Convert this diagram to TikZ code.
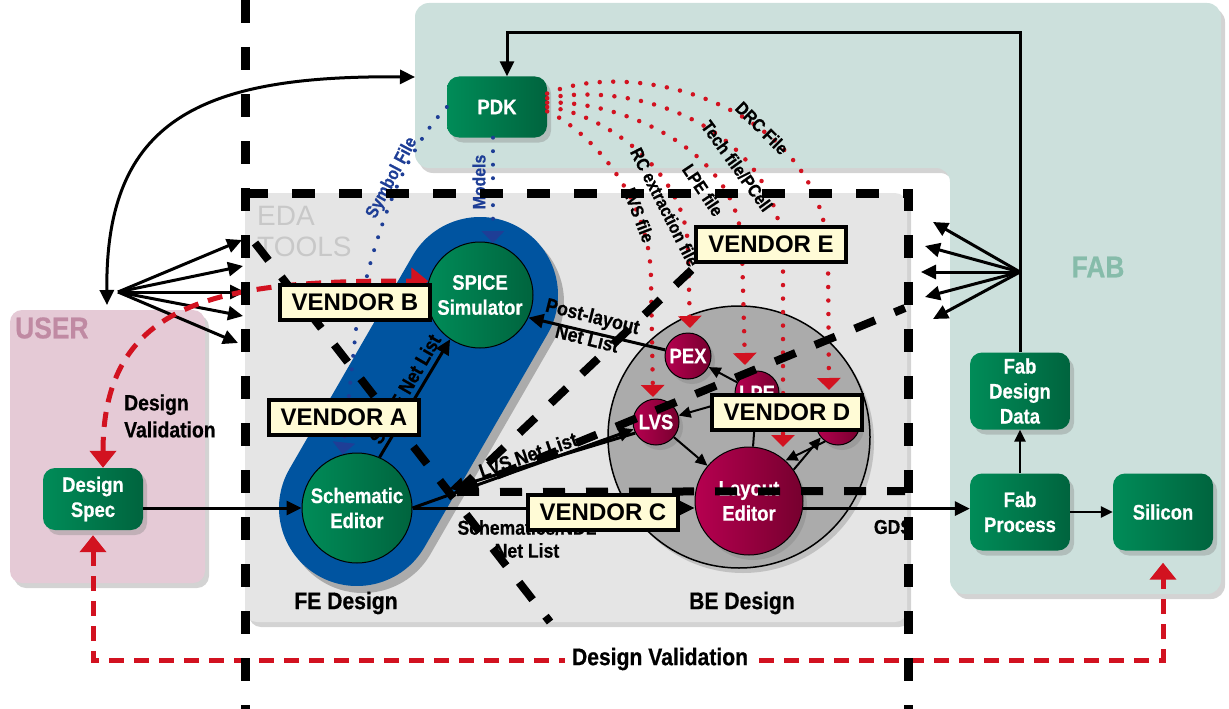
\documentclass[tikz,border=0pt]{standalone}
\usepackage{fontspec}
\setmainfont{Liberation Sans}
\newfontfamily\narrowfont{Liberation Sans}[FakeStretch=0.88, BoldFeatures={FakeBold=0.6}]
\usetikzlibrary{arrows.meta, shadows, positioning}
\definecolor{fabgreen}{RGB}{204,224,220}
\definecolor{fablabel}{RGB}{134,188,170}
\definecolor{userpink}{RGB}{229,202,214}
\definecolor{userlabel}{RGB}{192,138,163}
\definecolor{edagray}{RGB}{229,229,229}
\definecolor{edalabel}{RGB}{200,200,200}
\definecolor{begray}{RGB}{171,171,171}
\definecolor{nodegreen}{RGB}{0,140,88}
\definecolor{nodegreendark}{RGB}{0,100,62}
\definecolor{nodered}{RGB}{182,0,80}
\definecolor{noderedark}{RGB}{118,0,46}
\definecolor{capsuleblue}{RGB}{0,84,160}
\definecolor{valred}{RGB}{210,18,32}
\definecolor{dotblue}{RGB}{30,62,150}
\definecolor{vendorcream}{RGB}{255,251,214}
\tikzstyle{softshadow} = [drop shadow={shadow xshift=4pt, shadow yshift=-5pt, opacity=0.35}]
\tikzstyle{greenbox} = [rectangle, rounded corners=12pt, minimum width=100pt, minimum height=61pt, align=center, left color=nodegreen, right color=nodegreendark, text=white, font=\narrowfont\bfseries\fontsize{21}{25}\selectfont, softshadow]
\tikzstyle{greencircle} = [circle, draw=black, line width=1pt, inner sep=0pt, align=center, left color=nodegreen, right color=nodegreendark, text=white, font=\narrowfont\bfseries\fontsize{21}{25}\selectfont]
\tikzstyle{redcircle} = [circle, draw=black, line width=1pt, inner sep=0pt, align=center, left color=nodered, right color=noderedark, text=white, font=\narrowfont\bfseries\fontsize{21}{25}\selectfont, softshadow]
\tikzstyle{vendorbox} = [rectangle, draw=black, line width=4pt, fill=vendorcream, minimum width=150pt, minimum height=35pt, inner sep=3pt, font=\bfseries\fontsize{24}{28}\selectfont]
\tikzstyle{flowlabel} = [font=\narrowfont\bfseries\fontsize{20}{23}\selectfont, align=center, inner sep=1pt]
\tikzstyle{filelabel} = [font=\narrowfont\bfseries\fontsize{18}{20}\selectfont, inner sep=0pt]
\tikzstyle{arrow} = [line width=3pt, -{Triangle[length=15pt,width=14pt]}]
\tikzstyle{thinarrow} = [line width=2pt, -{Triangle[length=12pt,width=11pt]}]
\tikzstyle{vendorline} = [line width=8pt, dash pattern=on 22pt off 21pt]
\tikzstyle{borderline} = [line width=9pt, dash pattern=on 23pt off 24pt]
\tikzstyle{validation} = [valred, line width=5pt, dash pattern=on 15pt off 10pt, {Triangle[length=17pt,width=26pt]}-{Triangle[length=17pt,width=26pt]}]
\tikzstyle{reddots} = [valred, line width=4.5pt, line cap=round, dash pattern=on 0pt off 13.5pt, -{Triangle[length=12pt,width=23pt]}]
\tikzstyle{bluedots} = [dotblue, line width=4pt, line cap=round, dash pattern=on 0pt off 13.5pt, -{Triangle[length=12pt,width=22pt]}]
\begin{document}
\begin{tikzpicture}[x=1pt, y=-1pt]
\useasboundingbox (0,0) rectangle (1229,709);

% regions
\fill[fabgreen, rounded corners=14pt, softshadow] (415,3) -- (1221,3) -- (1221,594) -- (950,594) -- (950,168) -- (415,168) -- cycle;
\fill[userpink, rounded corners=12pt, softshadow] (10,310) rectangle (205,583);
\fill[edagray, rounded corners=12pt, softshadow] (245,193) rectangle (907,622);

\node[font=\narrowfont\bfseries\fontsize{30}{32}\selectfont, text=userlabel, anchor=west, inner sep=0pt] (userlbl) at (15,328) {USER};
\node[font=\fontsize{28}{31}\selectfont, text=edalabel, align=left, anchor=north west, inner sep=0pt] (edalbl) at (257,206) {EDA\\TOOLS};
\node[font=\narrowfont\bfseries\fontsize{30}{32}\selectfont, text=fablabel] (fablbl) at (1098,267) {FAB};
\node[font=\narrowfont\bfseries\fontsize{24}{26}\selectfont] (felbl) at (346,603) {FE Design};
\node[font=\narrowfont\bfseries\fontsize{24}{26}\selectfont] (belbl) at (742,603) {BE Design};

% front end capsule and back end disc
\draw[line width=156pt, line cap=round, black, opacity=0.25] (363,515) -- (486,302);
\draw[line width=156pt, line cap=round, capsuleblue] (357,508) -- (480,295);
\node[circle, draw=black, line width=1.5pt, fill=begray, minimum size=262pt, softshadow] (be) at (739,437) {};

% PDK deliveries
\node[greenbox] (pdk) at (497,107) {PDK};
\draw[reddots] (pdk.15) .. controls (640,55) and (828,110) .. (828,260) -- (829,390);
\draw[reddots] (pdk.10) .. controls (640,80) and (783,130) .. (783,260) -- (783,447);
\draw[reddots] (pdk.5) .. controls (620,100) and (742,150) .. (742,250) -- (745,365);
\draw[reddots] (pdk.0) .. controls (600,112) and (688,170) .. (688,250) -- (690,328);
\draw[reddots] (pdk.-5) .. controls (580,125) and (651,190) .. (651,280) -- (653,397);
\node[filelabel, rotate=-45] (drclbl) at (762,128) {DRC File};
\node[filelabel, rotate=-54] (techlbl) at (737,166) {Tech file/PCell};
\node[filelabel, rotate=-56] (lpelbl) at (703,190) {LPE file};
\node[filelabel, rotate=-63] (rclbl) at (665,207) {RC extraction file};
\node[filelabel, rotate=-69] (lvslbl) at (639,215) {LVS file};

\node[greencircle, minimum size=106pt] (spice) at (480,295) {SPICE\\Simulator};
\node[greencircle, minimum size=110pt] (sch) at (357,508) {Schematic\\Editor};
\draw[bluedots] ([xshift=-4pt]pdk.south) -- (spice.76);
\draw[bluedots] (pdk.west) .. controls (405,150) and (375,230) .. (357,320) -- (sch.105);
\node[filelabel, text=dotblue, rotate=90] (modlbl) at (479,182) {Models};
\node[filelabel, text=dotblue, rotate=62] (symlbl) at (392,178) {Symbol File};

% back end tools
\node[redcircle, minimum size=46pt] (pex) at (688,356) {PEX};
\node[redcircle, minimum size=44pt] (lpe) at (757,393) {LPE};
\node[redcircle, minimum size=46pt] (lvs) at (656,422) {LVS};
\node[redcircle, minimum size=44pt] (drc) at (838,423) {};
\node[redcircle, minimum size=108pt] (layout) at (749,501) {Layout\\Editor};
\draw[thinarrow] (lvs) -- (layout);
\draw[thinarrow] (lpe) -- (pex);
\draw[thinarrow] (lpe) -- (lvs);
\draw[thinarrow] (layout) -- (lpe);
\draw[thinarrow] (drc.235) -- (layout.48);
\draw[thinarrow] (layout.35) -- (drc.220);

% user, fab
\node[greenbox, minimum height=62pt] (spec) at (93,499) {Design\\Spec};
\node[greenbox, minimum height=77pt] (fdd) at (1020,391) {Fab\\Design\\Data};
\node[greenbox, minimum height=77pt] (fabproc) at (1020,512) {Fab\\Process};
\node[greenbox, minimum height=77pt] (silicon) at (1163,512) {Silicon};

% flows
\draw[arrow] (spec.east |- sch.west) -- (sch.west);
\draw[arrow] (sch.66) -- (spice.236);
\node[flowlabel, rotate=60] (spicenet) at (405,389) {SPICE Net List};
\draw[arrow] (sch.east) -- (lvs.198);
\coordinate (lvsback) at (449,489);
\draw[arrow] (lvs.208) -- (lvsback);
\node[flowlabel, rotate=19] (lvsnet) at (528,455) {LVS Net List};
\draw[arrow] (sch.east) -- (sch.east -| layout.west);
\node[flowlabel] (ndlnet) at (527,539) {Schematics/NDL\\Net List};
\draw[arrow] (pex.165) -- (spice.-25);
\node[flowlabel, rotate=-14] (postnet) at (590,327) {Post-layout\\Net List};
\draw[arrow] (layout.-8) -- (layout.-8 -| fabproc.west);
\node[flowlabel] (gdslbl) at (893,527) {GDS};
\draw[thinarrow, line width=2.5pt] (fabproc) -- (fdd);
\draw[thinarrow, line width=2.5pt] (fabproc) -- (silicon);

\coordinate (fabtop) at (1020,33);
\coordinate (pdktop) at (507,33);
\draw[arrow] (fdd.north) -- (fabtop) -- (pdktop) -- (pdktop |- pdk.north);
\coordinate (fabfan) at (1020,272);
\foreach \tx/\ty [count=\i] in {933/222, 925/246, 921/272, 925/297, 933/319}
  \coordinate (fabtip\i) at (\tx,\ty);
\foreach \i in {1,...,5}
  \draw[arrow] (fabfan) -- (fabtip\i);

\coordinate (userfan) at (118,292);
\foreach \tx/\ty [count=\i] in {242/240, 243/266, 245/292, 243/316, 238/343}
  \coordinate (usertip\i) at (\tx,\ty);
\foreach \i in {1,...,5}
  \draw[arrow] (userfan) -- (usertip\i);

\coordinate (usertop) at (107,305);
\coordinate (fableft) at (415,77);
\draw[arrow, {Triangle[length=15pt,width=14pt]}-{Triangle[length=15pt,width=14pt]}] (usertop) .. controls (105,120) and (200,75) .. (fableft);

% design validation loops
\draw[validation] ([xshift=10pt]spec.north) .. controls (103,300) and (220,280) .. (spice.165);
\node[flowlabel, align=left, anchor=west, font=\narrowfont\bfseries\fontsize{22}{27}\selectfont] (dvlbl) at (123,416) {Design\\Validation};
\draw[validation] ([yshift=-5pt]spec.south) -- (93,660) -| ([yshift=-12pt]silicon.south);
\node[flowlabel, fill=white, inner sep=7pt, font=\narrowfont\bfseries\fontsize{24}{26}\selectfont] (dvbottom) at (660,659) {Design Validation};

% vendor boundaries
\coordinate (hub) at (457,492);
\coordinate (bstart) at (255,243);
\coordinate (bend) at (550,622);
\coordinate (dend) at (905,308);
\coordinate (cend) at (905,491);
\coordinate (efoot) at (700,262);
\draw[vendorline] (bstart) -- (bend);
\draw[vendorline] (hub) -- (efoot);
\draw[vendorline] (hub) -- (dend);
\draw[vendorline] (hub) -- (cend);
\draw[borderline] (245,0) -- (245,709);
\draw[borderline] (245,193) -- (908,193) -- (908,709);

\node[vendorbox] (vendA) at (344,417) {VENDOR A};
\node[vendorbox] (vendB) at (355,302) {VENDOR B};
\node[vendorbox] (vendC) at (603,512) {VENDOR C};
\node[vendorbox] (vendD) at (787,412) {VENDOR D};
\node[vendorbox] (vendE) at (771,244) {VENDOR E};
\end{tikzpicture}
\end{document}
